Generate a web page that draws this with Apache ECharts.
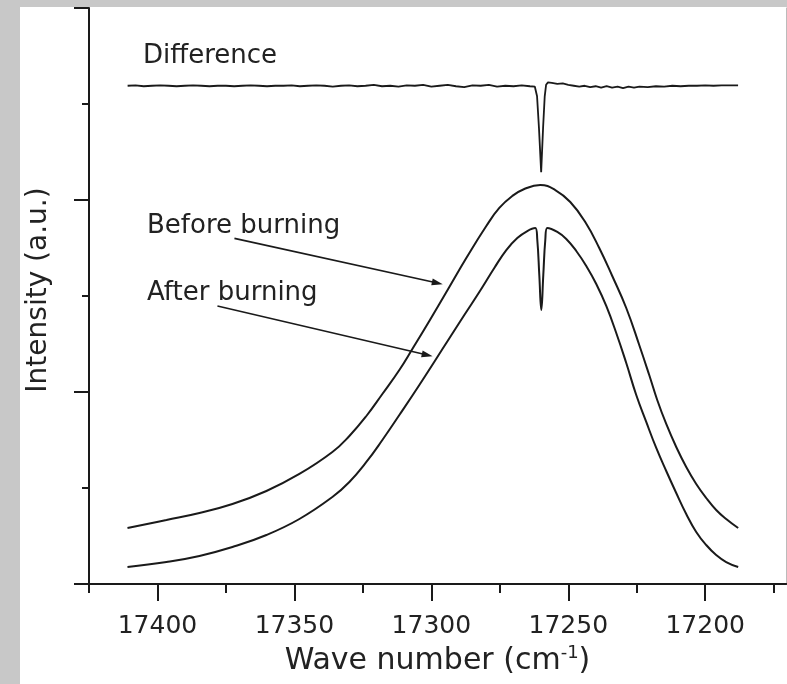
<!DOCTYPE html>
<html>
<head>
<meta charset="utf-8">
<script src="https://cdn.jsdelivr.net/npm/echarts@6/dist/echarts.min.js"></script>
<style>
  html, body { margin: 0; padding: 0; background: #c8c8c8; }
  #panel { position: absolute; left: 20px; top: 7px; width: 767px; height: 677px; background: #fff; }
  #chart { position: absolute; left: 0; top: 0; width: 787px; height: 684px; }
</style>
</head>
<body>
<div id="panel"></div>
<div id="chart"></div>
<script>
// wave number (cm-1), intensity (a.u.)
const beforeBurning = [
  [17410.95, 0.583], [17396.72, 0.667], [17384.67, 0.740], [17372.63, 0.833], [17360.22, 0.969],
  [17348.18, 1.146], [17336.13, 1.375], [17329.93, 1.542], [17323.72, 1.750], [17317.88, 1.979],
  [17311.68, 2.229], [17306.93, 2.448], [17300.73, 2.740], [17293.43, 3.094], [17287.23, 3.396],
  [17279.93, 3.729], [17275.18, 3.917], [17270.44, 4.042], [17266.06, 4.115], [17260.22, 4.156],
  [17254.74, 4.104], [17249.27, 3.979], [17243.80, 3.771], [17238.69, 3.500], [17233.94, 3.208],
  [17228.83, 2.875], [17224.09, 2.490], [17220.44, 2.177], [17217.52, 1.917], [17214.23, 1.667],
  [17210.58, 1.427], [17206.93, 1.219], [17203.28, 1.042], [17199.64, 0.896], [17195.99, 0.771],
  [17192.34, 0.677], [17187.96, 0.583]
];

const afterBurning = [
  [17410.95, 0.177], [17396.72, 0.229], [17384.67, 0.292], [17372.63, 0.385], [17360.22, 0.510],
  [17348.18, 0.677], [17336.13, 0.906], [17329.93, 1.063], [17323.72, 1.271], [17317.88, 1.500],
  [17311.68, 1.760], [17304.38, 2.073], [17294.53, 2.510], [17287.96, 2.802], [17282.48, 3.042],
  [17277.01, 3.292], [17272.63, 3.479], [17268.61, 3.604], [17264.96, 3.677], [17262.04, 3.708],
  [17261.31, 3.583], [17260.58, 3.219], [17259.85, 2.854], [17259.12, 3.219], [17258.39, 3.583],
  [17257.66, 3.708], [17254.01, 3.667], [17250.73, 3.594], [17247.08, 3.469], [17243.43, 3.313],
  [17239.78, 3.125], [17236.13, 2.896], [17232.48, 2.615], [17228.83, 2.302], [17225.18, 1.969],
  [17221.53, 1.688], [17217.88, 1.417], [17214.23, 1.177], [17210.58, 0.948], [17206.93, 0.729],
  [17203.28, 0.542], [17199.64, 0.406], [17195.99, 0.302], [17192.34, 0.229], [17187.96, 0.177]
];

const difference = [
  [17410.9, 5.19], [17408, 5.195], [17405, 5.185], [17402, 5.19], [17399, 5.195], [17396, 5.19],
  [17393, 5.185], [17390, 5.19], [17387, 5.195], [17384, 5.19], [17381, 5.185], [17378, 5.19],
  [17375, 5.19], [17372, 5.185], [17369, 5.19], [17366, 5.195], [17363, 5.19], [17360, 5.185],
  [17357, 5.19], [17354, 5.19], [17351, 5.195], [17348, 5.185], [17345, 5.19], [17342, 5.195],
  [17339, 5.19], [17336, 5.18], [17333, 5.19], [17330, 5.195], [17327, 5.185], [17324, 5.19],
  [17321, 5.2], [17318, 5.185], [17315, 5.19], [17312, 5.18], [17309, 5.195], [17306, 5.19],
  [17303, 5.2], [17300, 5.18], [17297, 5.19], [17294, 5.2], [17291, 5.185], [17288, 5.175],
  [17285, 5.195], [17282, 5.19], [17279, 5.2], [17276, 5.18], [17273, 5.19], [17270, 5.185],
  [17267, 5.195], [17264, 5.185], [17262.2, 5.18], [17261.4, 5.08], [17260.7, 4.75],
  [17259.9, 4.29], [17259.2, 4.75], [17258.6, 5.08], [17258.1, 5.2], [17257.4, 5.225],
  [17256, 5.22], [17254, 5.21], [17252, 5.215], [17250, 5.2], [17248, 5.19], [17246, 5.18],
  [17244, 5.19], [17242, 5.175], [17240, 5.185], [17238, 5.17], [17236, 5.185], [17234, 5.17],
  [17232, 5.18], [17230, 5.165], [17228, 5.18], [17226, 5.17], [17224, 5.18], [17221, 5.175],
  [17218, 5.185], [17215, 5.18], [17212, 5.19], [17209, 5.185], [17206, 5.19], [17203, 5.19],
  [17200, 5.195], [17197, 5.19], [17194, 5.195], [17191, 5.195], [17188, 5.195]
];

const majorTicks = [17400, 17350, 17300, 17250, 17200];
const minorTicks = [17425, 17375, 17325, 17275, 17225, 17175];
const yMajorTicks = [0, 2, 4, 6];
const yMinorTicks = [1, 3, 5];

// arrow annotations: [from, to]
const beforeArrow = [[17371.9, 3.60], [17297.8, 3.135]];
const afterArrow = [[17378.1, 2.896], [17301.5, 2.385]];

const FONT = 'DejaVu Sans';
const INK = '#1a1a1a';
const xMin = 17170.5, xMax = 17425;

const chart = echarts.init(document.getElementById('chart'));

function curve(name, data, extra) {
  return Object.assign({
    name: name,
    type: 'line',
    data: data,
    showSymbol: false,
    smooth: 0.45,
    lineStyle: { color: INK, width: 2 },
    silent: true
  }, extra || {});
}

function arrow(pts) {
  return {
    silent: true,
    symbol: ['none', 'triangle'],
    symbolSize: [7, 11],
    label: { show: false },
    lineStyle: { color: INK, width: 1.6, type: 'solid' },
    data: [[{ coord: pts[0] }, { coord: pts[1] }]]
  };
}

function plainAxisY(extra) {
  return Object.assign({
    type: 'value', min: 0, max: 6, position: 'left',
    axisLine: { show: false },
    axisLabel: { show: false },
    splitLine: { show: false }
  }, extra);
}

chart.setOption({
  animation: false,
  backgroundColor: 'transparent',
  grid: { left: 89, right: 1, top: 8, bottom: 100 },
  xAxis: [
    {
      type: 'value', inverse: true, min: xMin, max: xMax, position: 'bottom',
      axisLine: { lineStyle: { color: INK, width: 2 } },
      axisTick: { customValues: majorTicks, length: 17, lineStyle: { color: INK, width: 2 } },
      axisLabel: {
        customValues: majorTicks, fontFamily: FONT, fontSize: 25, color: '#222', margin: 30,
        formatter: v => String(v)
      },
      splitLine: { show: false },
      name: '{b|Wave number (cm}{s|-1}{b|)}',
      nameLocation: 'middle', nameGap: 60,
      nameTextStyle: {
        rich: {
          b: { fontFamily: FONT, fontSize: 30, color: '#222', lineHeight: 34 },
          s: { fontFamily: FONT, fontSize: 18, color: '#222', verticalAlign: 'top', lineHeight: 34 }
        }
      }
    },
    {
      type: 'value', inverse: true, min: xMin, max: xMax, position: 'bottom',
      axisLine: { show: false },
      axisTick: { customValues: minorTicks, length: 9, lineStyle: { color: INK, width: 2 } },
      axisLabel: { show: false },
      splitLine: { show: false }
    },
    {
      type: 'value', inverse: true, min: xMin, max: xMax, position: 'top',
      axisLine: { lineStyle: { color: INK, width: 2 } },
      axisTick: { show: false }, axisLabel: { show: false }, splitLine: { show: false }
    }
  ],
  yAxis: [
    {
      type: 'value', min: 0, max: 6, position: 'left',
      axisLine: { lineStyle: { color: INK, width: 2 } },
      axisTick: { customValues: yMajorTicks, length: 15, lineStyle: { color: INK, width: 2 } },
      axisLabel: { show: false },
      splitLine: { show: false },
      name: 'Intensity (a.u.)',
      nameLocation: 'middle', nameGap: 36,
      nameTextStyle: { fontFamily: FONT, fontSize: 28, color: '#222', padding: [0, 0, 0, 12] }
    },
    plainAxisY({
      axisTick: { customValues: yMinorTicks, length: 7, lineStyle: { color: INK, width: 2 } }
    }),
    plainAxisY({
      position: 'right',
      axisLine: { show: true, lineStyle: { color: '#bbb', width: 1 } },
      axisTick: { show: false }
    })
  ],
  graphic: [
    { type: 'text', left: 143, top: 43, style: { text: 'Difference', font: '26px "DejaVu Sans"', fill: '#222' } },
    { type: 'text', left: 147, top: 213, style: { text: 'Before burning', font: '26px "DejaVu Sans"', fill: '#222' } },
    { type: 'text', left: 147, top: 280, style: { text: 'After burning', font: '26px "DejaVu Sans"', fill: '#222' } }
  ],
  series: [
    curve('Difference', difference, { smooth: false, lineStyle: { color: INK, width: 1.8 } }),
    curve('Before burning', beforeBurning, { markLine: arrow(beforeArrow) }),
    curve('After burning', afterBurning, { markLine: arrow(afterArrow) })
  ]
});
</script>
</body>
</html>
